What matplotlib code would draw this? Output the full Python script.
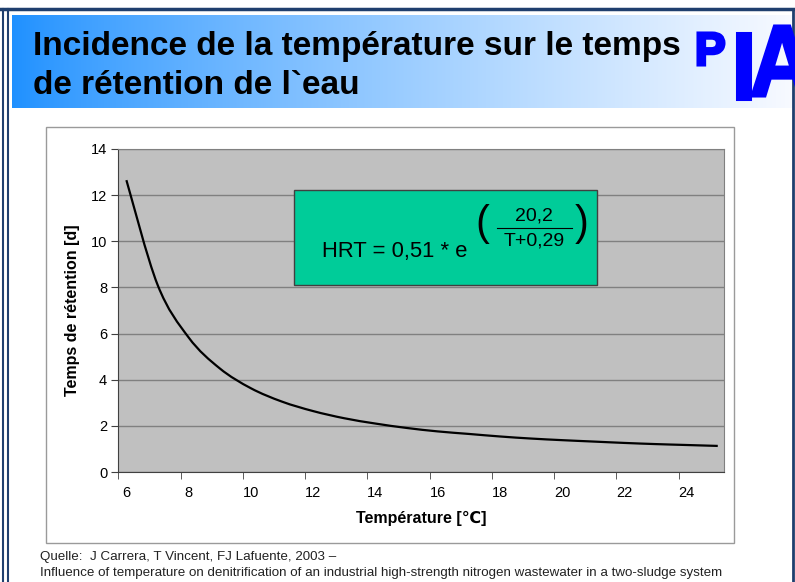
import matplotlib.pyplot as plt
import numpy as np
from matplotlib.patches import Rectangle, PathPatch
from matplotlib.path import Path
from matplotlib.textpath import TextPath
from matplotlib.font_manager import FontProperties
from matplotlib.transforms import Affine2D

plt.rcParams['font.family'] = ['Liberation Sans', 'DejaVu Sans']

# Data (temperature in degC, HRT in days)
temperature = [6, 7, 8, 9, 10, 11, 12, 13, 14, 15, 16, 17, 18, 19, 20, 21, 22, 23, 24, 25]
hrt = [12.65, 8.12, 5.83, 4.49, 3.63, 3.05, 2.64, 2.33, 2.10, 1.91,
       1.76, 1.65, 1.54, 1.45, 1.38, 1.32, 1.26, 1.21, 1.17, 1.13]
x_labels = [6, 8, 10, 12, 14, 16, 18, 20, 22, 24]
y_ticks = [0, 2, 4, 6, 8, 10, 12, 14]

title_1 = "Incidence de la température sur le temps"
title_2 = "de rétention de l`eau"
source_1 = "Quelle:  J Carrera, T Vincent, FJ Lafuente, 2003 \u2013"
source_2 = ("Influence of temperature on denitrification of an industrial "
            "high-strength nitrogen wastewater in a two-sludge system")


def smooth_path(xs, ys):
    # Excel-like smoothed line: cubic bezier segments through the points
    pts = np.column_stack([xs, ys]).astype(float)
    verts = [pts[0]]
    codes = [Path.MOVETO]
    n = len(pts)
    for i in range(n - 1):
        p0 = pts[max(i - 1, 0)]
        p1 = pts[i]
        p2 = pts[i + 1]
        p3 = pts[min(i + 2, n - 1)]
        c1 = p1 + (p2 - p0) / 6
        c2 = p2 - (p3 - p1) / 6
        verts += [c1, c2, p2]
        codes += [Path.CURVE4] * 3
    return Path(verts, codes)


W, H = 795, 582
fig = plt.figure(figsize=(W / 100, H / 100), dpi=100)

# background layer in pixel coordinates
bg = fig.add_axes([0, 0, 1, 1])
bg.set_xlim(0, W)
bg.set_ylim(H, 0)
bg.axis('off')

# title banner with horizontal gradient
grad = np.linspace(0, 1, 400) ** 0.8
left_c = np.array([30, 144, 255]) / 255
right_c = np.array([248, 250, 255]) / 255
rgb = left_c[None, :] * (1 - grad[:, None]) + right_c[None, :] * grad[:, None]
bg.imshow(rgb[None, :, :], extent=[12, W, 108, 15], aspect='auto', zorder=1)

# slide frame
navy = '#1f3f6e'
bg.plot([0, W], [9, 9], color=navy, lw=2.5, zorder=3)
bg.plot([3, 3], [9, H], color=navy, lw=1.5, zorder=3)
bg.plot([7.5, 7.5], [9, H], color=navy, lw=1.5, zorder=3)
bg.plot([793, 793], [9, H], color=navy, lw=2, zorder=3)

# chart frame
bg.add_patch(Rectangle((46, 127), 688, 416, facecolor='white',
                       edgecolor='#9a9a9a', lw=1, zorder=2))

# chart axes
x0, x1, y0, y1 = 118.3, 724, 149, 472
ax = fig.add_axes([x0 / W, (H - y1) / H, (x1 - x0) / W, (y1 - y0) / H])
ax.set_facecolor('#c0c0c0')
ax.add_patch(PathPatch(smooth_path(temperature, hrt), facecolor='none',
                       edgecolor='black', lw=1.6, zorder=3))
ax.set_xlim(5.74, 25.2)
ax.set_ylim(0, 14)
ax.set_xticks(x_labels)
ax.set_xticklabels([str(v) for v in x_labels], fontsize=10.5)
ax.set_xticks([v - 0.26 for v in x_labels], minor=True)
ax.tick_params(axis='x', which='major', length=0, pad=10)
ax.tick_params(axis='x', which='minor', length=5, direction='out', color='#404040')
ax.set_yticks(y_ticks)
ax.set_yticklabels([str(v) for v in y_ticks], fontsize=10.5)
ax.tick_params(axis='y', length=5, direction='out', color='#404040', pad=3)
ax.grid(axis='y', color='#808080', lw=1)
ax.set_axisbelow(True)
for side in ['top', 'right']:
    ax.spines[side].set_color('#808080')
for side in ['left', 'bottom']:
    ax.spines[side].set_color('#404040')
ax.set_xlabel("Température [℃]", fontsize=11.5, fontweight='bold', labelpad=8)
ax.set_ylabel("Temps de rétention [d]", fontsize=11.5, fontweight='bold', labelpad=8)

# overlay layer in pixel coordinates
ov = fig.add_axes([0, 0, 1, 1])
ov.set_xlim(0, W)
ov.set_ylim(H, 0)
ov.axis('off')
ov.patch.set_alpha(0)

ov.text(33, 46, title_1, fontsize=24, fontweight='bold', color='black',
        va='center', ha='left')
ov.text(33, 86, title_2, fontsize=24, fontweight='bold', color='black',
        va='center', ha='left')

# PIA logo, letters stretched into their boxes
logo_font = FontProperties(family='Liberation Sans', weight='bold')
for letter, lx0, lx1, ly0, ly1 in [("P", 698, 724, 33, 65),
                                    ("I", 737, 750, 33, 99),
                                    ("A", 752, 812, 26, 96)]:
    tp = TextPath((0, 0), letter, size=100, prop=logo_font)
    ext = tp.get_extents()
    tr = (Affine2D().translate(-ext.x0, -ext.y0)
          .scale((lx1 - lx0) / ext.width, -(ly1 - ly0) / ext.height)
          .translate(lx0, ly1))
    ov.add_patch(PathPatch(tr.transform_path(tp), facecolor='#0000ff',
                           edgecolor='#0000ff', lw=2.2, joinstyle='miter', zorder=5))

# formula box
ov.add_patch(Rectangle((294, 190), 303, 95, facecolor='#00cc99',
                       edgecolor='#404040', lw=1, zorder=4))
ov.text(322, 252, "HRT = 0,51 * e", fontsize=15.8, va='center', ha='left', zorder=5)
ov.text(482, 224, "(", fontsize=30, va='center', ha='center', zorder=5)
ov.text(582, 224, ")", fontsize=30, va='center', ha='center', zorder=5)
ov.text(534, 216, "20,2", fontsize=14, va='center', ha='center', zorder=5)
ov.plot([497, 572], [228, 228], color='black', lw=0.8, zorder=5)
ov.text(534, 241, "T+0,29", fontsize=14, va='center', ha='center', zorder=5)

# source
ov.text(40, 557, source_1, fontsize=9.6, color='#222222', va='center', ha='left')
ov.text(40, 573, source_2, fontsize=9.6, color='#222222', va='center', ha='left')

fig.savefig('out.png', dpi=100)
